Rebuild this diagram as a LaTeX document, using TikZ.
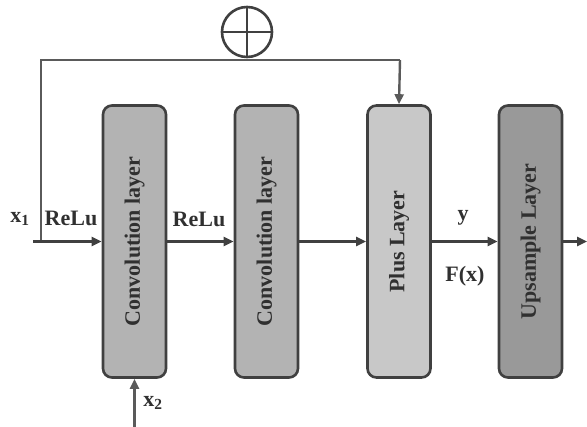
\documentclass[tikz,border=0pt]{standalone}
\usepackage{fontspec}
\setmainfont{Liberation Serif}
\usetikzlibrary{arrows.meta}
\definecolor{edgegray}{HTML}{404040}
\definecolor{linkgray}{HTML}{5A5A5A}
\definecolor{txtgray}{HTML}{303030}
\definecolor{convfill}{HTML}{B3B3B3}
\definecolor{plusfill}{HTML}{C8C8C8}
\definecolor{upfill}{HTML}{999999}
\tikzset{
  layerbox/.style={draw=edgegray, line width=2.6pt, rounded corners=9pt,
    minimum width=63pt, minimum height=272pt, inner sep=0pt,
    text=txtgray, font=\fontsize{22}{24}\selectfont\bfseries},
  flow/.style={draw=edgegray, line width=2.4pt,
    -{Triangle[length=10pt,width=9pt]}},
  skip/.style={draw=linkgray, line width=2.4pt},
  lbl/.style={text=txtgray, font=\fontsize{22}{24}\selectfont\bfseries, inner sep=0pt},
  sumnode/.style={circle, draw=edgegray, line width=2.6pt, minimum size=50pt, inner sep=0pt}
}
\begin{document}
\begin{tikzpicture}[x=1pt,y=-1pt]
\useasboundingbox (0,0) rectangle (587,427);

% layers
\node[layerbox, fill=convfill] (conv1) at (134.5,241.5) {\rotatebox{90}{Convolution layer}};
\node[layerbox, fill=convfill] (conv2) at (266.5,241.5) {\rotatebox{90}{Convolution layer}};
\node[layerbox, fill=plusfill] (plus) at (399,241.5) {\rotatebox{90}{Plus Layer}};
\node[layerbox, fill=upfill] (up) at (530.5,241.5) {\rotatebox{90}{Upsample Layer}};

% summation symbol
\node[sumnode] (sum) at (247,32) {};
\draw[edgegray, line width=2.6pt] (sum.north) -- (sum.south) (sum.west) -- (sum.east);

% endpoints of the open connectors
\coordinate (xin) at (33,241.5);
\coordinate (skipcorner) at (41,60);
\coordinate (skipturn) at (400,60);
\coordinate (xtwo) at (134.5,427);
\coordinate (out) at (587,241.5);

% skip connection
\draw[skip] (41,241.5) -- (skipcorner) -- (skipturn);
\draw[skip, -{Triangle[length=10pt,width=9pt]}] (skipturn) -- (plus.north);

% main flow
\draw[flow] (xin) -- (conv1.west);
\draw[flow] (conv1.east) -- (conv2.west);
\draw[flow] (conv2.east) -- (plus.west);
\draw[flow] (plus.east) -- (up.west);
\draw[flow] (up.east) -- (out);
\draw[skip, -{Triangle[length=10pt,width=9pt]}] (xtwo) -- (conv1.south);

% labels
\node[lbl] (lx1) at (20,219) {x\textsubscript{1}};
\node[lbl] (lrelu1) at (71,218) {ReLu};
\node[lbl] (lrelu2) at (199,219) {ReLu};
\node[lbl] (ly) at (463,218) {y};
\node[lbl] (lf) at (465,276) {F(x)};
\node[lbl] (lx2) at (153,403) {x\textsubscript{2}};
\end{tikzpicture}
\end{document}
